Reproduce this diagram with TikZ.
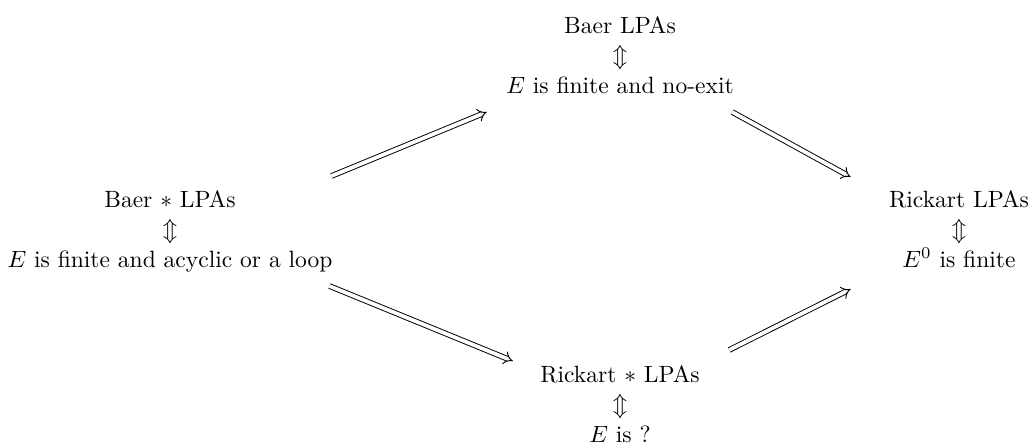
\documentclass[tikz,border=0pt]{standalone}
\usetikzlibrary{arrows.meta}
\begin{document}
\begin{tikzpicture}[x=0.4248pt,y=-0.4248pt,
  blk/.style={align=center,inner sep=0pt,anchor=north},
  imp/.style={double,double distance=1.6pt,line width=0.4pt,-{Implies}}]
\useasboundingbox (0,0) rectangle (1035,446);
\node[blk] (T) at (620,16) {Baer LPAs\\[0.75pt] $\Updownarrow$\\[0.75pt] $E$ is finite and no-exit};
\node[blk] (L) at (170,190) {Baer $*$ LPAs\\[0.75pt] $\Updownarrow$\\[0.75pt] $E$ is finite and acyclic or a loop};
\node[blk] (R) at (959,190) {Rickart LPAs\\[0.75pt] $\Updownarrow$\\[0.75pt] $E^0$ is finite};
\node[blk] (B) at (620,365) {Rickart $*$ LPAs\\[0.75pt] $\Updownarrow$\\[0.75pt] $E$ is ?};
\draw[imp] ([shift={(-1.5,-14)}]L.north east) -- ([shift={(-19,96)}]T.north west);
\draw[imp] ([shift={(-2,96)}]T.north east) -- ([shift={(-38,-13)}]R.north west);
\draw[imp] ([shift={(-3.5,96)}]L.north east) -- ([shift={(-27,-4)}]B.north west);
\draw[imp] ([shift={(29,-15)}]B.north east) -- ([shift={(-38,99)}]R.north west);
\end{tikzpicture}
\end{document}
